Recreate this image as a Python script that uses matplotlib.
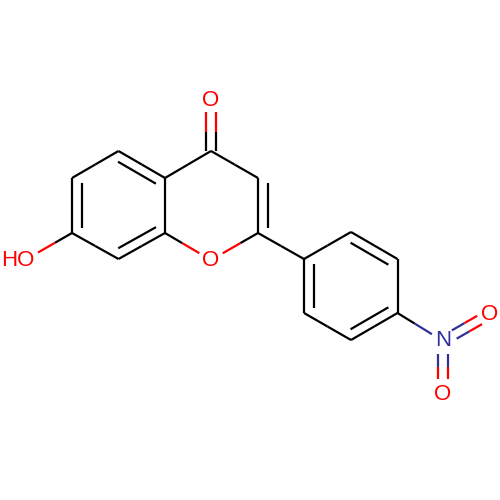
#!/usr/bin/env python3
"""7-hydroxy-2-(4-nitrophenyl)chromen-4-one, skeletal structure."""

import numpy as np
import matplotlib
matplotlib.use("Agg")
import matplotlib.pyplot as plt

BLACK = "#000000"
RED = "#FF0000"
BLUE = "#30309A"
LW = 1.6

# atom centres, image pixels
NAMES = ["O1", "C4", "C3", "C2", "O", "C8a", "C4a", "C5", "C6", "C7", "C8",
         "C1p", "C2p", "C3p", "C4p", "C5p", "C6p", "N", "O2", "O3", "OH"]
ATOM_X = [211, 211, 258, 258, 211, 165, 165, 118.5, 72, 72, 118.5,
          304, 351, 397.5, 397.5, 351, 304, 443, 490, 443, 25]
ATOM_Y = [100, 151, 178, 233, 260, 233, 178, 151, 178, 233, 259,
          259, 232, 259, 313, 340, 313, 341, 314, 395, 260]
COLORS = {"O1": RED, "O": RED, "O2": RED, "O3": RED, "OH": RED, "N": BLUE}
# pixels left clear around a labelled atom
CLEAR = {"O1": 12, "O": 13.5, "O2": 12, "O3": 16, "OH": 15, "N": 13}

SINGLE = [("C4", "C3"), ("C2", "O"), ("O", "C8a"), ("C4a", "C4"), ("C5", "C6"),
          ("C7", "C8"), ("C8a", "C4a"), ("C7", "OH"), ("C2", "C1p"),
          ("C1p", "C2p"), ("C3p", "C4p"), ("C5p", "C6p"), ("C4p", "N")]
# ring double bonds: the second line sits on the ring-centre side
INNER = [("C3", "C2", "C3p"), ("C5", "C4a", "C8a"), ("C6", "C7", "C8a"),
         ("C8", "C8a", "C4a"), ("C2p", "C3p", "C5p"), ("C4p", "C5p", "C2p"),
         ("C6p", "C1p", "C3p")]
SIDE = [("C4", "O1"), ("N", "O2"), ("N", "O3")]
LABELS = [("O", "O1", 0), ("O", "O", 0), ("HO", "OH", -7.5),
          ("N", "N", 0), ("O", "O2", 0), ("O", "O3", 0)]

fig = plt.figure(figsize=(5, 5), dpi=100)
ax = fig.add_axes([0, 0, 1, 1])
ax.set_xlim(0, 500)
ax.set_ylim(500, 0)
ax.axis("off")


def pos(name):
    i = NAMES.index(name)
    return np.array([ATOM_X[i], ATOM_Y[i]], dtype=float)


def two_tone(p1, p2, a, b, t1=0.0, t2=1.0):
    """Draw p1-p2 trimmed to the fractions t1..t2, colour split at the middle."""
    s = p1 + (p2 - p1) * t1
    e = p1 + (p2 - p1) * t2
    mid = (s + e) / 2
    ca, cb = COLORS.get(a, BLACK), COLORS.get(b, BLACK)
    ax.plot([s[0], mid[0]], [s[1], mid[1]], color=ca, lw=LW, solid_capstyle="butt")
    ax.plot([mid[0], e[0]], [mid[1], e[1]], color=cb, lw=LW, solid_capstyle="butt")


def trims(p1, p2, a, b):
    n = np.linalg.norm(p2 - p1)
    return CLEAR.get(a, 0) / n, 1 - CLEAR.get(b, 0) / n


for a, b in SINGLE:
    p1, p2 = pos(a), pos(b)
    two_tone(p1, p2, a, b, *trims(p1, p2, a, b))

for a, b, other in INNER:
    p1, p2 = pos(a), pos(b)
    two_tone(p1, p2, a, b)
    d = p2 - p1
    u = d / np.linalg.norm(d)
    n = np.array([-u[1], u[0]])
    if np.dot(pos(other) - p1, n) < 0:
        n = -n
    q1 = p1 + n * 9.5 + u * 5
    q2 = p2 + n * 9.5 - u * 5
    ax.plot([q1[0], q2[0]], [q1[1], q2[1]], color=BLACK, lw=LW, solid_capstyle="butt")

for a, b in SIDE:
    p1, p2 = pos(a), pos(b)
    u = (p2 - p1) / np.linalg.norm(p2 - p1)
    n = np.array([-u[1], u[0]])
    t1, t2 = trims(p1, p2, a, b)
    for s in (-4.8, 4.8):
        two_tone(p1 + n * s, p2 + n * s, a, b, t1, t2)

for txt, name, dx in LABELS:
    x, y = pos(name)
    ax.text(x + dx, y, txt, color=COLORS[name], fontsize=16, ha="center",
            va="center", family="Liberation Sans", zorder=3)

fig.savefig("out.png", dpi=100, facecolor="white")
